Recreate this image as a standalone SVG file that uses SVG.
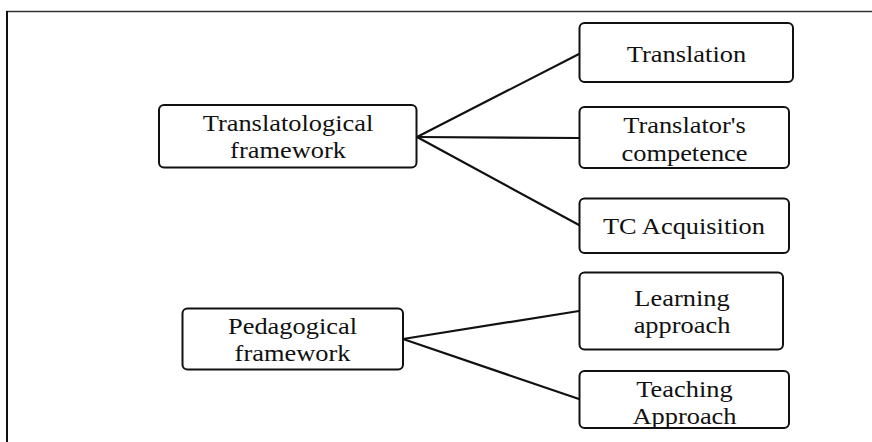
<svg xmlns="http://www.w3.org/2000/svg" width="872" height="442" viewBox="0 0 872 442">
<style>
.box{fill:#fff;stroke:#111;stroke-width:2}
.t{font-family:"Liberation Serif","Times New Roman",serif;font-size:24px;fill:#111;text-anchor:middle}
.c{stroke:#111;stroke-width:2.2;fill:none;stroke-linecap:round}
</style>
<rect width="872" height="442" fill="#fff"/>
<g id="frame">
<line x1="6" y1="11.5" x2="872" y2="11.5" stroke="#333" stroke-width="1.6"/>
<line x1="7" y1="11" x2="7" y2="442" stroke="#111" stroke-width="2"/>
</g>
<g id="connectors">
<line class="c" x1="417" y1="137" x2="579" y2="54"/>
<line class="c" x1="417" y1="137" x2="579" y2="138"/>
<line class="c" x1="417" y1="137" x2="579" y2="225"/>
<line class="c" x1="403" y1="339" x2="579" y2="311"/>
<line class="c" x1="403" y1="339" x2="579" y2="399"/>
</g>
<g id="translatological">
<rect class="box" x="159" y="105" width="257.5" height="62.5" rx="5"/>
<text class="t" transform="translate(288 131.2) scale(1.1 1)">Translatological</text>
<text class="t" transform="translate(288 158.2) scale(1.1 1)">framework</text>
</g>
<g id="translation">
<rect class="box" x="579.5" y="23" width="213.5" height="59" rx="5"/>
<text class="t" transform="translate(686.5 62) scale(1.1 1)">Translation</text>
</g>
<g id="competence">
<rect class="box" x="579.5" y="107" width="209.5" height="61" rx="5"/>
<text class="t" transform="translate(684.5 132.5) scale(1.1 1)">Translator's</text>
<text class="t" transform="translate(684.5 160.5) scale(1.1 1)">competence</text>
</g>
<g id="tc-acquisition">
<rect class="box" x="579.5" y="198.5" width="209.5" height="54.5" rx="5"/>
<text class="t" transform="translate(684 234) scale(1.1 1)">TC Acquisition</text>
</g>
<g id="pedagogical">
<rect class="box" x="182.5" y="308.5" width="220.5" height="61" rx="5"/>
<text class="t" transform="translate(292.5 333.5) scale(1.1 1)">Pedagogical</text>
<text class="t" transform="translate(292.5 361) scale(1.1 1)">framework</text>
</g>
<g id="learning">
<rect class="box" x="579.5" y="272.5" width="203.5" height="77" rx="5"/>
<text class="t" transform="translate(682 306) scale(1.1 1)">Learning</text>
<text class="t" transform="translate(682 333) scale(1.1 1)">approach</text>
</g>
<g id="teaching">
<rect class="box" x="579.5" y="371" width="209.5" height="57" rx="5"/>
<text class="t" transform="translate(684.5 396.5) scale(1.1 1)">Teaching</text>
<text class="t" transform="translate(684.5 423.5) scale(1.1 1)">Approach</text>
</g>
</svg>
